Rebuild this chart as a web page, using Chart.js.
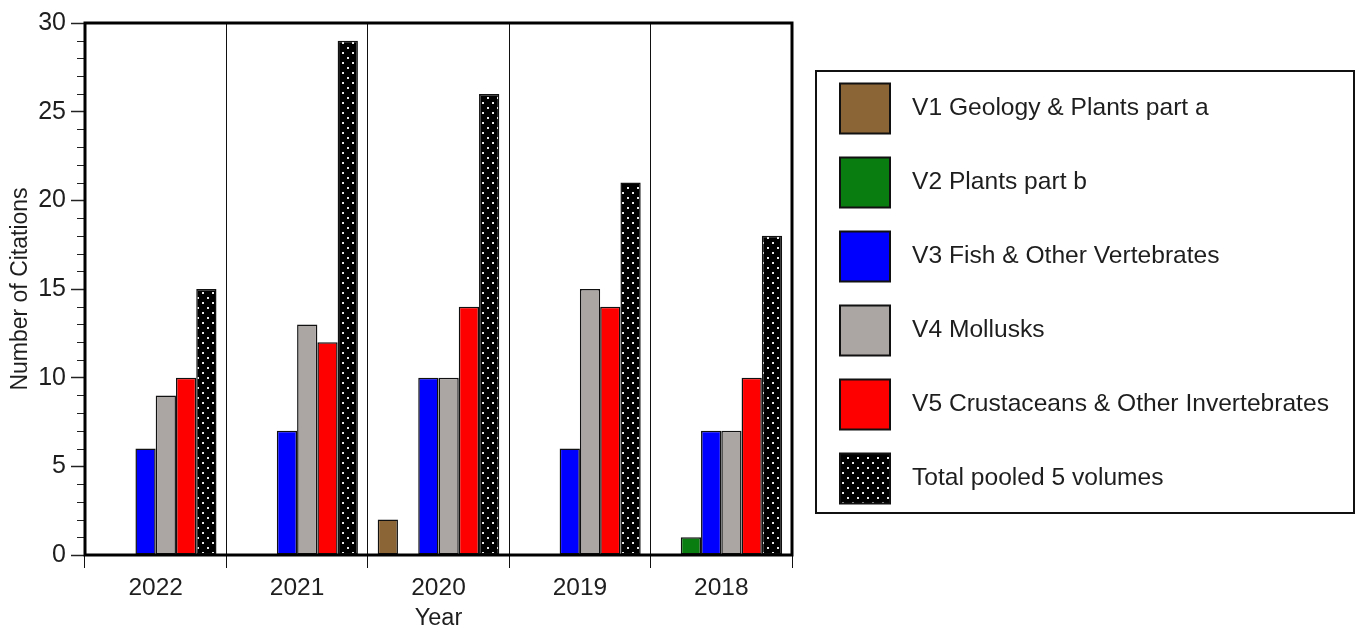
<!DOCTYPE html>
<html>
<head>
<meta charset="utf-8">
<script src="https://cdn.jsdelivr.net/npm/chart.js@4.4.0/dist/chart.umd.min.js"></script>
<style>
html, body { margin: 0; padding: 0; background: #fff; }
#wrap { width: 1362px; height: 629px; }
</style>
</head>
<body>
<div id="wrap"><canvas id="citeChart"></canvas></div>
<script>
const years = ['2022', '2021', '2020', '2019', '2018'];
const v1Geology = [0, 0, 2, 0, 0];
const v2Plants = [0, 0, 0, 0, 1];
const v3Fish = [6, 7, 10, 6, 7];
const v4Mollusks = [9, 13, 10, 15, 7];
const v5Crustaceans = [10, 12, 14, 14, 10];
const totalPooled = [15, 29, 26, 21, 18];

const seriesNames = [
	'V1 Geology & Plants part a',
	'V2 Plants part b',
	'V3 Fish & Other Vertebrates',
	'V4 Mollusks',
	'V5 Crustaceans & Other Invertebrates',
	'Total pooled 5 volumes'
];

const FONT = '"Liberation Sans", Arial, Helvetica, sans-serif';
const TEXT = '#1e1e1e';

// black with white dots for the pooled total
const dotPattern = (() => {
	const tile = document.createElement('canvas');
	tile.width = 10;
	tile.height = 10;
	const c = tile.getContext('2d');
	c.fillStyle = '#000';
	c.fillRect(0, 0, 10, 10);
	c.fillStyle = '#e8e8e8';
	c.fillRect(2, 2, 2, 2);
	c.fillRect(7, 7, 2, 2);
	return c.createPattern(tile, 'repeat');
})();

const colors = ['#8c6536', '#0a7d10', '#0000ff', '#aba5a4', '#ff0000', dotPattern];
const values = [v1Geology, v2Plants, v3Fish, v4Mollusks, v5Crustaceans, totalPooled];

const frameAndTicks = {
	id: 'frameAndTicks',
	afterDatasetsDraw(chart) {
		const { ctx, chartArea } = chart;
		const y = chart.scales.y;
		ctx.save();
		// minor ticks
		ctx.strokeStyle = '#222';
		ctx.lineWidth = 1;
		for (let v = 0; v <= 30; v++) {
			if (v % 5 === 0) continue;
			const py = Math.round(y.getPixelForValue(v)) + 0.5;
			ctx.beginPath();
			ctx.moveTo(chartArea.left - 8, py);
			ctx.lineTo(chartArea.left, py);
			ctx.stroke();
		}
		ctx.strokeStyle = '#000';
		ctx.lineWidth = 3;
		ctx.strokeRect(chartArea.left, chartArea.top, chartArea.right - chartArea.left, chartArea.bottom - chartArea.top);
		ctx.restore();
	}
};

const boxLegend = {
	id: 'boxLegend',
	afterDraw(chart) {
		const { ctx } = chart;
		ctx.save();
		ctx.strokeStyle = '#111';
		ctx.lineWidth = 2;
		ctx.strokeRect(816, 71, 538, 442);
		ctx.font = '24.6px ' + FONT;
		ctx.textBaseline = 'middle';
		chart.data.datasets.forEach((ds, i) => {
			const cy = 108.5 + i * 74;
			ctx.fillStyle = ds.backgroundColor;
			ctx.fillRect(840, cy - 25, 50, 50);
			ctx.lineWidth = 2;
			ctx.strokeStyle = '#111';
			ctx.strokeRect(840, cy - 25, 50, 50);
			ctx.fillStyle = TEXT;
			ctx.fillText(ds.label, 912, cy);
		});
		ctx.restore();
	}
};

new Chart('citeChart', {
	type: 'bar',
	data: {
		labels: years,
		datasets: values.map((data, i) => ({
			label: seriesNames[i],
			data: data,
			backgroundColor: colors[i],
			borderColor: '#111',
			borderWidth: 1.5,
			borderSkipped: false,
			categoryPercentage: 0.86,
			barPercentage: 1
		}))
	},
	options: {
		responsive: true,
		maintainAspectRatio: false,
		animation: false,
		devicePixelRatio: 1,
		layout: { padding: { top: 23, right: 570, left: 0, bottom: 0 } },
		plugins: {
			legend: { display: false },
			tooltip: { enabled: false }
		},
		scales: {
			x: {
				afterFit: (scale) => { scale.height = 74; },
				grid: {
					color: '#111',
					lineWidth: 1,
					tickLength: 13,
					drawOnChartArea: true
				},
				border: { display: false },
				ticks: {
					color: TEXT,
					padding: 6,
					font: { family: FONT, size: 24.5 }
				},
				title: {
					display: true,
					text: 'Year',
					color: TEXT,
					padding: { top: 0, bottom: -4 },
					font: { family: FONT, size: 23.5 }
				}
			},
			y: {
				min: 0,
				max: 30,
				afterFit: (scale) => { scale.width = 85; },
				grid: {
					drawOnChartArea: false,
					tickLength: 14,
					tickWidth: 1.5,
					tickColor: (c) => (c.tick && c.tick.value % 5 === 0 ? '#222' : 'rgba(0,0,0,0)')
				},
				border: { display: false },
				ticks: {
					stepSize: 1,
					autoSkip: false,
					color: TEXT,
					padding: 5,
					font: { family: FONT, size: 25 },
					callback: (v) => (v % 5 === 0 ? v : '')
				},
				title: {
					display: true,
					text: 'Number of Citations',
					color: TEXT,
					padding: { top: 7, bottom: 0 },
					font: { family: FONT, size: 23 }
				}
			}
		}
	},
	plugins: [frameAndTicks, boxLegend]
});
</script>
</body>
</html>
